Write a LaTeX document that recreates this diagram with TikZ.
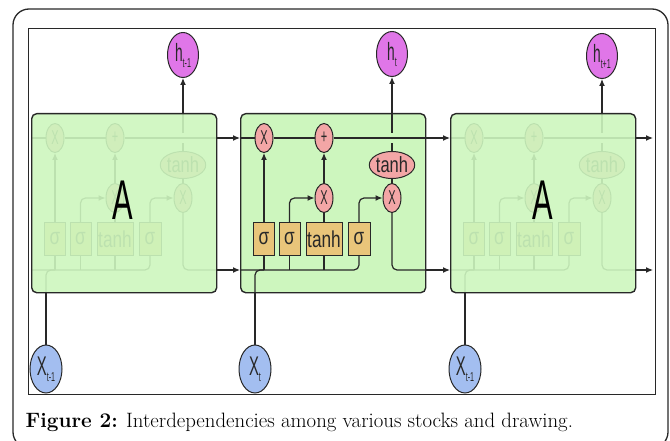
\documentclass[tikz,border=0pt]{standalone}
\usepackage{fontspec}
\newfontfamily\condfont[FakeStretch=0.55]{Liberation Sans}
\newfontfamily\semifont[FakeStretch=0.75]{Liberation Sans}
\usetikzlibrary{arrows.meta, positioning, shapes.geometric}

\definecolor{cellgreen}{RGB}{205,246,190}
\definecolor{gatepink}{RGB}{243,166,166}
\definecolor{layertan}{RGB}{233,197,122}
\definecolor{hviolet}{RGB}{224,118,232}
\definecolor{xblue}{RGB}{163,190,240}
\definecolor{linegray}{RGB}{40,40,40}

\newcommand{\lowidx}[1]{\raisebox{-6pt}{\fontsize{13}{13}\selectfont #1}}

\tikzset{
  arr/.style={-{Latex[length=7pt,width=6pt]}},
  cellbox/.style={draw=linegray, line width=1.4pt, rounded corners=5pt, minimum width=185pt, minimum height=179pt, inner sep=0pt, anchor=north west},
  gate/.style={ellipse, draw=linegray, fill=gatepink, line width=1pt, minimum width=18pt, minimum height=29pt, inner sep=0pt, font=\condfont\fontsize{20}{20}\selectfont},
  tanhgate/.style={gate, minimum width=44pt, minimum height=27pt, font=\semifont\fontsize{22}{22}\selectfont},
  layer/.style={rectangle, draw=linegray, fill=layertan, line width=1pt, minimum width=21pt, minimum height=32pt, inner sep=0pt, font=\semifont\fontsize{23}{23}\selectfont},
  hnode/.style={ellipse, draw=linegray, fill=hviolet, line width=1pt, minimum width=31pt, minimum height=45pt, inner sep=0pt, font=\condfont\fontsize{25}{25}\selectfont},
  xnode/.style={hnode, fill=xblue, minimum width=32pt, minimum height=48pt, font=\condfont\fontsize{27}{27}\selectfont},
  bigA/.style={font=\condfont\fontsize{56}{56}\selectfont, text=black},
  lstm/.pic={
    \coordinate (cin) at (0,25);
    \coordinate (cout) at (185,25);
    \coordinate (hin) at (0,157);
    \coordinate (hout) at (185,157);
    \coordinate (xin) at (15,179);
    \coordinate (htop) at (152,0);
    \coordinate (cross) at (152,25);
    % gates
    \node[gate] (f) at (24,25) {X};
    \node[gate] (p) at (84,25) {+};
    \node[gate] (i) at (84,85) {X};
    \node[gate] (o) at (152,85) {X};
    \node[tanhgate] (th) at (152,52) {tanh};
    % layers
    \node[layer] (s1) at (24,126) {σ};
    \node[layer] (s2) at (49.5,126) {σ};
    \node[layer, minimum width=36pt] (g) at (84,126) {tanh};
    \node[layer, minimum width=22pt] (s3) at (119,126) {σ};
    % cell state and hidden lines
    \draw (cin) -- (f) -- (p) -- (cout);
    \draw[rounded corners=5pt] (hin) -| (s3);
    \draw[rounded corners=5pt] (xin) |- (s1 |- hin);
    \draw (s1) -- (s1 |- hin);
    \draw (s2) -- (s2 |- hin);
    \draw (g) -- (g |- hin);
    % gate wiring
    \draw[arr] (s1) -- (f);
    \draw[arr, rounded corners=5pt] (s2) |- (i);
    \draw (g) -- (i);
    \draw[arr] (i) -- (p);
    \draw[arr, rounded corners=5pt] (s3) |- (o);
    \draw (th) -- (o);
    \draw (th) -- ([yshift=-5pt]cross);
    \draw ([yshift=5pt]cross) -- (htop);
    \draw[rounded corners=5pt] (o) |- (hout);
  }
}

\begin{document}
\begin{tikzpicture}[x=1pt, y=-1pt, line width=1.2pt, color=linegray]
  \useasboundingbox (0,0) rectangle (670,441);

  % Frames
  \draw[line width=1.3pt, rounded corners=16pt] (13,9) rectangle (668,448);
  \draw[line width=0.9pt] (28,28) rectangle (655,394);

  % Left cell (faded)
  \pic (L-) at (31,113) {lstm};
  \node[cellbox, fill=cellgreen, fill opacity=0.9] (cellL) at (31,113) {};
  \node[bigA] (AL) at (123,200) {A};

  % Middle cell
  \node[cellbox, fill=cellgreen] (cellM) at (240,113) {};
  \pic (M-) at (240,113) {lstm};

  % Right cell (faded)
  \pic (R-) at (450,113) {lstm};
  \node[cellbox, fill=cellgreen, fill opacity=0.9] (cellR) at (450,113) {};
  \node[bigA] (AR) at (543,200) {A};

  % Outputs
  \node[hnode] (hL) at (183,55) {h\lowidx{t-1}};
  \node[hnode] (hM) at (392,54) {h\lowidx{t}};
  \node[hnode] (hR) at (602,56) {h\lowidx{t+1}};
  \draw[arr] (L-htop) -- (hL);
  \draw[arr] (M-htop) -- (hM);
  \draw[arr] (R-htop) -- (hR);

  % Inputs
  \node[xnode] (xL) at (46,369) {X\lowidx{t-1}};
  \node[xnode] (xM) at (255,369) {X\lowidx{t}};
  \node[xnode] (xR) at (465,369) {X\lowidx{t-1}};
  \draw (xL) -- (L-xin);
  \draw (xM) -- (M-xin);
  \draw (xR) -- (R-xin);

  % Links between cells
  \coordinate (cend) at (653,138);
  \coordinate (hend) at (653,270);
  \draw[arr] (L-cout) -- (M-cin);
  \draw[arr] (L-hout) -- (M-hin);
  \draw[arr] (M-cout) -- (R-cin);
  \draw[arr] (M-hout) -- (R-hin);
  \draw[arr] (R-cout) -- (cend);
  \draw[arr] (R-hout) -- (hend);

  % Caption
  \node[anchor=base west, inner sep=0pt, text=black, font=\fontsize{20.8}{21}\selectfont] (caption) at (25,427) {\textbf{Figure 2:} Interdependencies among various stocks and drawing.};
\end{tikzpicture}
\end{document}
